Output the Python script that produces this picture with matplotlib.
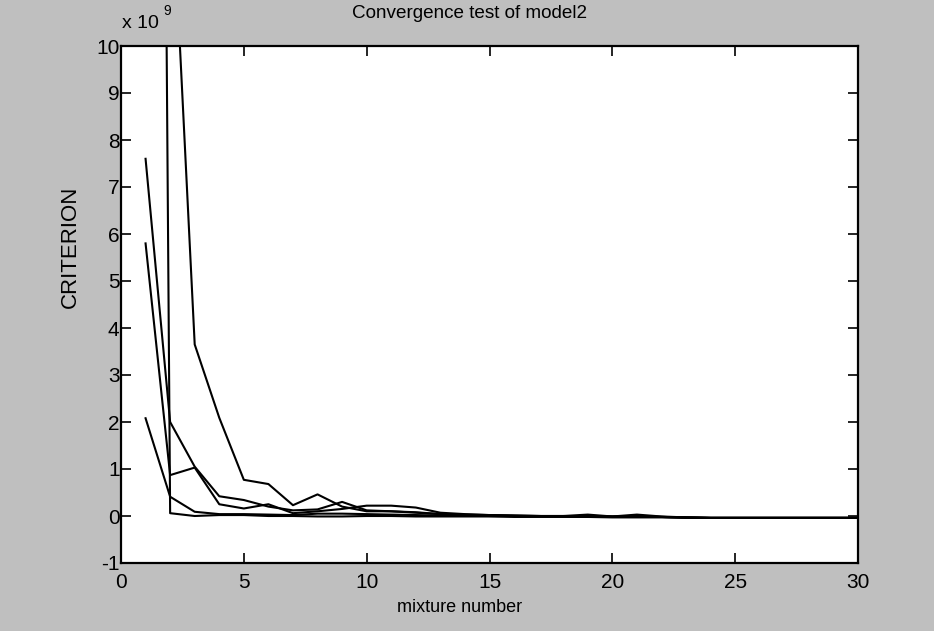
import numpy as np
import matplotlib.pyplot as plt

plt.rcParams['font.family'] = ['Liberation Sans', 'DejaVu Sans']

# mixture number 1..30, criterion in units of 1e9
mixture = list(range(1, 31))

run_a = [7.6, 2.0, 1.05, 0.42, 0.34, 0.20, 0.12, 0.14, 0.30, 0.12,
         0.10, 0.07, 0.04, 0.03, 0.02, 0.01, 0.00, -0.01, 0.00, -0.01,
         0.00, -0.02, -0.03, -0.04, -0.04, -0.04, -0.04, -0.04, -0.04, -0.04]
run_b = [5.8, 0.87, 1.03, 0.25, 0.16, 0.25, 0.06, 0.10, 0.15, 0.22,
         0.22, 0.18, 0.07, 0.04, 0.02, 0.01, 0.00, 0.00, -0.01, -0.01,
         -0.01, -0.02, -0.03, -0.04, -0.04, -0.04, -0.04, -0.04, -0.04, -0.04]
run_c = [2.08, 0.41, 0.09, 0.04, 0.04, 0.03, 0.02, 0.05, 0.05, 0.04,
         0.03, 0.02, 0.01, 0.01, 0.00, 0.00, 0.00, 0.00, 0.03, -0.01,
         0.03, -0.01, -0.03, -0.04, -0.04, -0.04, -0.04, -0.04, -0.04, -0.04]
run_d = [70.0, 0.06, 0.00, 0.02, 0.02, 0.00, 0.00, -0.01, -0.01, 0.00,
         0.00, -0.01, -0.01, -0.01, -0.01, -0.02, -0.02, -0.02, -0.02, -0.03,
         -0.03, -0.03, -0.04, -0.04, -0.04, -0.04, -0.04, -0.04, -0.04, -0.04]
run_e = [25.0, 14.2, 3.65, 2.09, 0.77, 0.68, 0.23, 0.46, 0.20, 0.10,
         0.10, 0.08, 0.04, 0.02, 0.01, 0.00, 0.00, -0.01, -0.01, -0.02,
         -0.02, -0.02, -0.03, -0.04, -0.04, -0.04, -0.04, -0.04, -0.04, -0.04]

runs = [run_a, run_b, run_c, run_d, run_e]

xticks = [0, 5, 10, 15, 20, 25, 30]
yticks = [-1, 0, 1, 2, 3, 4, 5, 6, 7, 8, 9, 10]

bg = '#bfbfbf'
fig = plt.figure(figsize=(9.34, 6.31), dpi=100, facecolor=bg)
ax = fig.add_axes([121 / 934, 1 - 563 / 631, (858 - 121) / 934, (563 - 46) / 631])
ax.set_facecolor('white')

for run in runs:
    ax.plot(mixture, run, color='black', linewidth=1.5)

ax.set_xlim(0, 30)
ax.set_ylim(-1, 10)
ax.set_xticks(xticks)
ax.set_xticklabels([str(t) for t in xticks])
ax.set_yticks(yticks)
ax.set_yticklabels([str(t) for t in yticks])  # plain hyphen like matlab
ax.tick_params(direction='in', length=7, width=1.2, top=True, right=True,
               labelsize=15, colors='black')
ax.tick_params(axis='x', pad=7)
ax.tick_params(axis='y', pad=1)
for s in ax.spines.values():
    s.set_linewidth(1.6)

# text placed like the scanned matlab figure
fig.text(470 / 934, 1 - 14 / 631, 'Convergence test of model2', ha='center', va='center', fontsize=13.6)
fig.text(460 / 934, 1 - 607 / 631, 'mixture number', ha='center', va='center', fontsize=13)
fig.text(70 / 934, 1 - 247 / 631, 'CRITERION', ha='center', va='center', rotation=90, fontsize=16)
fig.text(122 / 934, 1 - 24 / 631, 'x 10', ha='left', va='center', fontsize=14)
fig.text(163 / 934, 1 - 11 / 631, '9', ha='left', va='center', fontsize=10)

fig.savefig('out.png', dpi=100, facecolor=bg)
